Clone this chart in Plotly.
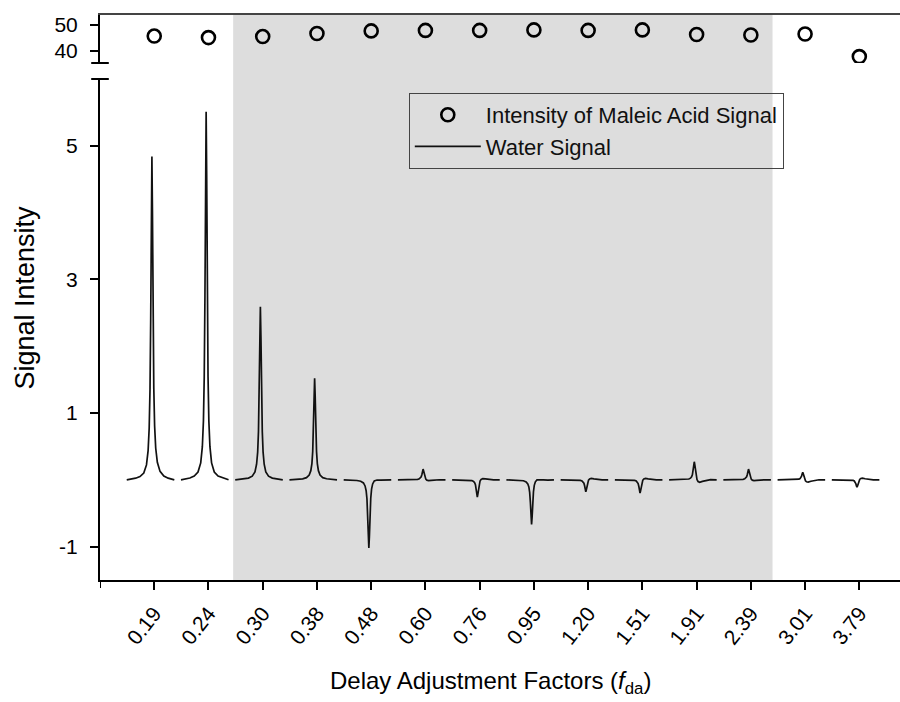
import plotly.graph_objects as go

# Delay adjustment factors (categorical x axis)
fda_labels = ["0.19", "0.24", "0.30", "0.38", "0.48", "0.60", "0.76",
              "0.95", "1.20", "1.51", "1.91", "2.39", "3.01", "3.79"]

# Maleic acid signal intensity (upper panel)
maleic_intensity = [45.7, 45.1, 45.5, 46.7, 47.7, 47.9, 47.9,
                    48.1, 47.9, 48.1, 46.3, 46.1, 46.5, 37.7]

# Residual water signal: main peak height per spectrum and the small
# post-peak wiggle that follows it
water_peak = [4.84, 5.51, 2.59, 1.52, -1.02, 0.16, -0.26,
              -0.67, -0.18, -0.20, 0.27, 0.16, 0.11, -0.11]
water_after = [0.04, 0.0, 0.0, 0.0, 0.03, -0.02, 0.03,
               0.03, 0.03, 0.03, -0.05, -0.02, -0.04, 0.03]

# Line-shape of each spectrum strip (offset from peak in category units)
shape_offsets = [-0.464, -0.30, -0.22, -0.15, -0.10, -0.07, -0.05, -0.035,
                 -0.022, -0.01, 0.0, 0.01, 0.022, 0.035, 0.05, 0.07, 0.10,
                 0.15, 0.22, 0.30, 0.413]
shape_main = [0, .005, .01, .021, .046, .09, .16, .28, .5, .83, 1,
              .83, .5, .28, .16, .09, .046, .021, .01, .005, 0]
shape_after = [0, 0, 0, 0, 0, 0, 0, 0, 0, 0, 0,
               0, 0, .3, .8, 1, 1, .6, .2, 0, 0]

peak_shift = -0.043          # peak sits slightly left of each tick
shade_range = (1.455, 11.40)  # grey band behind the optimal range

cat_x = list(range(len(fda_labels)))

wx, wy = [], []
for i, (h, a) in enumerate(zip(water_peak, water_after)):
    for o, m, s in zip(shape_offsets, shape_main, shape_after):
        wx.append(i + peak_shift + o)
        wy.append(h * m + a * s)
    wx.append(None)
    wy.append(None)

FONT = "Liberation Sans, Arial, sans-serif"

fig = go.Figure()

fig.add_trace(go.Scatter(
    x=cat_x, y=maleic_intensity, xaxis="x2", yaxis="y2",
    mode="markers", name="Intensity of Maleic Acid Signal",
    marker=dict(symbol="circle-open", size=13, color="#000000",
                line=dict(width=2.6, color="#000000")),
))
fig.add_trace(go.Scatter(
    x=wx, y=wy, xaxis="x", yaxis="y", mode="lines",
    name="Water Signal", connectgaps=False,
    line=dict(color="#111111", width=1.7),
))

x_range = [-1, 13.75]
bottom_dom = [0, 0.8867]
top_dom = [0.915, 1.0]
plot_h = 565.0

fig.update_layout(
    width=900, height=702,
    margin=dict(l=100, r=0, t=15, b=122),
    paper_bgcolor="white", plot_bgcolor="rgba(0,0,0,0)",
    font=dict(family=FONT, color="#000000"),
    showlegend=True,
    legend=dict(
        x=0.386, y=0.862, xanchor="left", yanchor="top",
        bgcolor="rgba(0,0,0,0)", bordercolor="#444444", borderwidth=1,
        font=dict(size=22, family=FONT, color="#111111"),
        itemwidth=66, tracegroupgap=0,
    ),
    xaxis=dict(
        domain=[0, 1], range=x_range, anchor="y",
        tickmode="array", tickvals=cat_x, ticktext=fda_labels,
        tickangle=-52, tickfont=dict(size=21, family=FONT),
        ticks="outside", ticklen=8, tickwidth=2, tickcolor="#000000",
        showline=True, linewidth=2, linecolor="#000000",
        showgrid=False, zeroline=False, ticklabelstandoff=3,
    ),
    xaxis2=dict(
        domain=[0, 1], range=x_range, anchor="y2", side="top",
        showticklabels=False, ticks="",
        showline=True, linewidth=1.5, linecolor="#444444",
        showgrid=False, zeroline=False,
    ),
    yaxis=dict(
        domain=bottom_dom, range=[-1.5, 6.0], anchor="x",
        tickmode="array", tickvals=[-1, 1, 3, 5],
        ticktext=["-1", "1", "3", "5"],
        tickfont=dict(size=21, family=FONT),
        ticks="outside", ticklen=8, tickwidth=2, tickcolor="#000000",
        showline=True, linewidth=2, linecolor="#000000",
        showgrid=False, zeroline=False, ticklabelstandoff=8,
    ),
    yaxis2=dict(
        domain=top_dom, range=[35.2, 53.9], anchor="x2",
        tickmode="array", tickvals=[40, 50],
        tickfont=dict(size=21, family=FONT),
        ticks="outside", ticklen=8, tickwidth=2, tickcolor="#000000",
        showline=True, linewidth=2, linecolor="#000000",
        showgrid=False, zeroline=False, ticklabelstandoff=8,
    ),
)

# Grey band spanning both panels
fig.add_shape(type="rect", xref="x", yref="paper",
              x0=shade_range[0], x1=shade_range[1], y0=0, y1=1,
              fillcolor="#dddddd", line=dict(width=0), layer="below")

# Tick mark at the left end of the x axis
fig.add_shape(type="line", xref="x", yref="paper",
              x0=x_range[0], x1=x_range[0], y0=0, y1=-8 / plot_h,
              line=dict(color="#000000", width=2))

# Axis-break marks on the y axis
for yb in (top_dom[0], bottom_dom[1]):
    fig.add_shape(type="line", xref="paper", yref="paper",
                  x0=-0.011, x1=0.011, y0=yb, y1=yb,
                  line=dict(color="#000000", width=2))

# Axis titles
fig.add_annotation(text="Signal Intensity", xref="paper", yref="paper",
                   x=-0.095, y=0.5, xanchor="center", yanchor="middle",
                   textangle=-90, showarrow=False,
                   font=dict(size=27, family=FONT))
fig.add_annotation(text="Delay Adjustment Factors (<i>f</i><sub>da</sub>)",
                   xref="paper", yref="paper", x=0.4875, y=-0.182,
                   xanchor="center", yanchor="middle",
                   showarrow=False, font=dict(size=24, family=FONT))

fig.write_html("out.html")
